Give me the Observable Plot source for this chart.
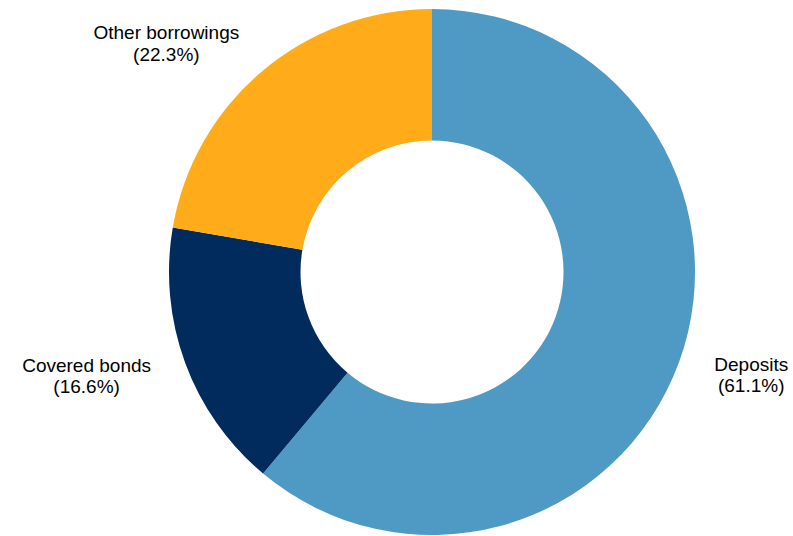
<!DOCTYPE html>
<html>
<head>
<meta charset="utf-8">
<script src="https://cdn.jsdelivr.net/npm/d3@7"></script>
<script src="https://cdn.jsdelivr.net/npm/@observablehq/plot@0.6"></script>
<style>
  html, body { margin: 0; padding: 0; background: #fff; }
</style>
</head>
<body>
<div id="chart"></div>
<script>
const categories = ["Deposits", "Covered bonds", "Other borrowings"];
const shares = [61.1, 16.6, 22.3];
const colors = ["#4f9ac4", "#002b5c", "#ffab1a"];

const data = categories.map((c, i) => ({category: c, share: shares[i]}));
const arcs = d3.pie().sort(null).value(d => d.share)(data);

const W = 793, H = 536;
const CX = 432, CY = 272, R = 263;
const FONT = "Liberation Sans, Arial, Helvetica, sans-serif";
const FS = 19;

// measure text for centering multi-line labels
const ctx = document.createElement("canvas").getContext("2d");
ctx.font = `${FS}px ${FONT}`;

const labelDist = 1.14;
const labels = arcs.map(a => {
  const mid = (a.startAngle + a.endAngle) / 2;
  const ax = labelDist * Math.sin(mid);
  const ay = labelDist * Math.cos(mid);
  const lines = [a.data.category, `(${a.data.share.toFixed(1)}%)`];
  const wpx = Math.max(...lines.map(l => ctx.measureText(l).width));
  const half = wpx / 2 / R;
  return {
    category: a.data.category,
    text: lines.join("\n"),
    x: ax + (ax > 0 ? half : -half),
    y: ay
  };
});

function donut(index, scales, values, dimensions, context) {
  const cx = scales.x(0), cy = scales.y(0);
  const rpx = scales.x(1) - scales.x(0);
  const arc = d3.arc().innerRadius(rpx * 0.5).outerRadius(rpx);
  const g = d3.create("svg:g").attr("transform", `translate(${cx},${cy})`);
  g.selectAll("path").data(arcs).join("path")
    .attr("d", arc)
    .attr("fill", d => scales.color(d.data.category));
  return g.node();
}

const chart = Plot.plot({
  width: W,
  height: H,
  margin: 0,
  x: {domain: [-CX / R, (W - CX) / R], range: [0, W], axis: null},
  y: {domain: [-(H - CY) / R, CY / R], range: [H, 0], axis: null},
  color: {domain: categories, range: colors},
  style: {fontFamily: FONT, fontSize: FS + "px", background: "#fff", color: "#000"},
  marks: [
    Plot.dot(data, {x: () => 0, y: () => 0, r: 0, fill: "category"}),
    donut,
    Plot.text(labels, {
      x: "x", y: "y", text: "text",
      textAnchor: "middle", lineAnchor: "middle", lineHeight: 1.12,
      fontSize: FS, fill: "#000"
    })
  ]
});
document.getElementById("chart").append(chart);
</script>
</body>
</html>
